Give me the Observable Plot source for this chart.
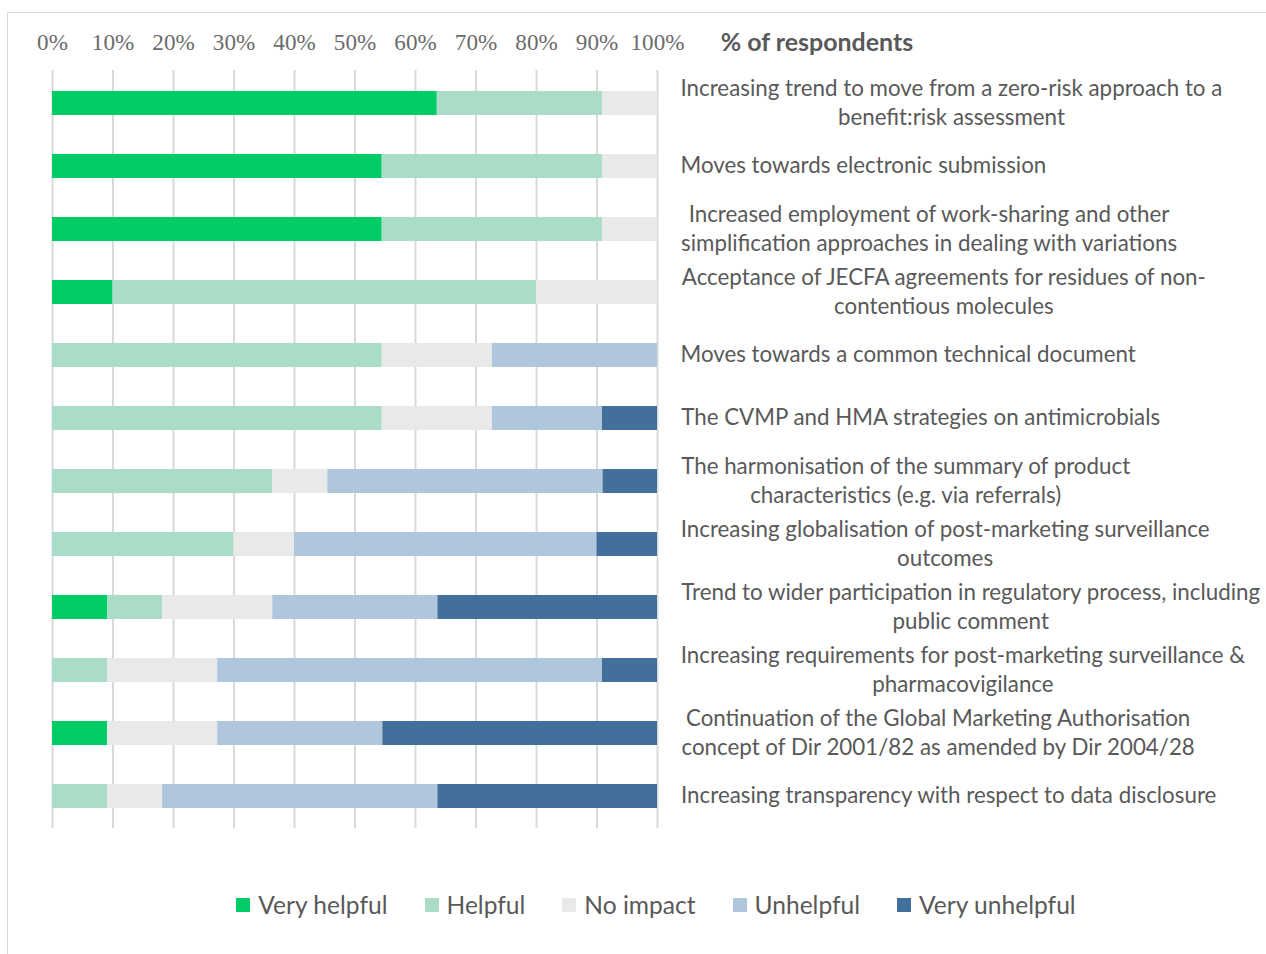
<!DOCTYPE html>
<html>
<head>
<meta charset="utf-8">
<script src="https://cdn.jsdelivr.net/npm/d3@7"></script>
<script src="https://cdn.jsdelivr.net/npm/@observablehq/plot@0.6"></script>
<style>
  html, body { margin: 0; padding: 0; background: #fff; }
  #wrap { position: relative; width: 1266px; height: 954px; overflow: hidden; }
  #frame { position: absolute; left: 7px; top: 12px; right: 0; bottom: 0;
           border-top: 1.5px solid #d9d9d9; border-left: 1.5px solid #d9d9d9; }
  #chart { position: absolute; left: 0; top: 0; }
  #legend { position: absolute; left: 0; top: 888px; width: 1266px; display: flex; justify-content: center; padding-left: 46px; box-sizing: border-box; }
  .lg-swatches { display: flex; align-items: center; }
  .lg-swatch { margin-right: 37px !important; }
  .lg-swatch:last-child { margin-right: 0 !important; }
  .lg-swatch svg { margin-right: 8px !important; }
  .tick-serif, .tick-serif text { font-family: "Liberation Serif", "Times New Roman", "DejaVu Serif", serif !important; }
</style>
</head>
<body>
<div id="wrap">
  <div id="frame"></div>
  <div id="chart"></div>
  <div id="legend"></div>
</div>
<script>
const categories = [
  "Increasing trend to move from a zero-risk approach to a\nbenefit:risk assessment",
  "Moves towards electronic submission",
  "Increased employment of work-sharing and other\nsimplification approaches in dealing with variations",
  "Acceptance of JECFA agreements for residues of non-\ncontentious molecules",
  "Moves towards a common technical document",
  "The CVMP and HMA strategies on antimicrobials",
  "The harmonisation of the summary of product\ncharacteristics (e.g. via referrals)",
  "Increasing globalisation of post-marketing surveillance\noutcomes",
  "Trend to wider participation in regulatory process, including\npublic comment",
  "Increasing requirements for post-marketing surveillance &\npharmacovigilance",
  "Continuation of the Global Marketing Authorisation\nconcept of Dir 2001/82 as amended by Dir 2004/28",
  "Increasing transparency with respect to data disclosure"
];
const seriesNames = ["Very helpful", "Helpful", "No impact", "Unhelpful", "Very unhelpful"];
const seriesColors = ["#00cc66", "#a9ddc7", "#e9e9e9", "#b0c6dd", "#436f9b"];
const veryHelpful   = [63.6, 54.5, 54.5, 10, 0,    0,    0,    0,  9.1, 0,    9.1,  0];
const helpful       = [27.3, 36.4, 36.4, 70, 54.5, 54.5, 36.4, 30, 9.1, 9.1,  0,    9.1];
const noImpact      = [9.1,  9.1,  9.1,  20, 18.2, 18.2, 9.1,  10, 18.2, 18.2, 18.2, 9.1];
const unhelpful     = [0,    0,    0,    0,  27.3, 18.2, 45.5, 50, 27.3, 63.6, 27.3, 45.5];
const veryUnhelpful = [0,    0,    0,    0,  0,    9.1,  9.0,  10, 36.3, 9.1,  45.4, 36.3];
const xTicks = [0, 10, 20, 30, 40, 50, 60, 70, 80, 90, 100];
const axisTitle = "% of respondents";

const seriesValues = [veryHelpful, helpful, noImpact, unhelpful, veryUnhelpful];
const rows = [];
seriesNames.forEach((s, si) => {
  categories.forEach((c, ci) => {
    rows.push({series: s, category: c, value: seriesValues[si][ci]});
  });
});

const sansFont = "Lato";
const serifFont = '"Liberation Serif", "Times New Roman", "DejaVu Serif", serif';
const canvas = document.createElement("canvas");
const ctx = canvas.getContext("2d");
function measure(text, font) { ctx.font = font; return ctx.measureText(text).width; }
const labelFs = 20 * 366 / measure("Moves towards electronic submission", `20px ${sansFont}`);
const titleFs = 20 * 193 / measure(axisTitle, `bold 20px ${sansFont}`);
const tickFs = 20 * 54 / measure("100%", `20px ${serifFont}`);
const gray = "#595959";

const labelMarks = categories.map(c => {
  const w = d3.max(c.split("\n"), l => measure(l, `${labelFs}px ${sansFont}`));
  return Plot.text([c], {
    x: () => 100, y: d => d, text: d => d,
    dx: 23 + w / 2, dy: -2.5, textAnchor: "middle", lineAnchor: "middle",
    lineHeight: 29 / labelFs, fontSize: labelFs, fontFamily: sansFont, fill: gray
  });
});
const titleW = measure(axisTitle, `bold ${titleFs}px ${sansFont}`);

const chart = Plot.plot({
  width: 1266, height: 840,
  marginTop: 70, marginBottom: 12, marginLeft: 52, marginRight: 609,
  x: {domain: [0, 100], axis: null},
  y: {domain: categories, axis: null, paddingInner: 0.62, paddingOuter: 0.31},
  color: {domain: seriesNames, range: seriesColors},
  marks: [
    Plot.gridX(xTicks, {stroke: "#d9d9d9", strokeWidth: 2, strokeOpacity: 1}),
    Plot.text(xTicks, {x: d => d, text: d => d + "%", frameAnchor: "top", dy: -28,
      textAnchor: "middle", lineAnchor: "middle", className: "tick-serif",
      fontFamily: serifFont, fontSize: tickFs, fill: "#6b6b6b"}),
    Plot.barX(rows, {x: "value", y: "category", fill: "series", order: seriesNames}),
    ...labelMarks,
    Plot.text([axisTitle], {x: () => 100, text: d => d, frameAnchor: "top", dy: -28,
      dx: 63 + titleW / 2, textAnchor: "middle", lineAnchor: "middle",
      fontSize: titleFs, fontWeight: "bold", fontFamily: sansFont, fill: gray})
  ]
});
document.getElementById("chart").appendChild(chart);

const legend = Plot.legend({
  color: {type: "ordinal", domain: seriesNames, range: seriesColors},
  legend: "swatches", swatchSize: 14, className: "lg",
  style: {fontSize: (labelFs * 22 / 20) + "px", fontFamily: sansFont, color: gray}
});
document.getElementById("legend").appendChild(legend);
</script>
</body>
</html>
